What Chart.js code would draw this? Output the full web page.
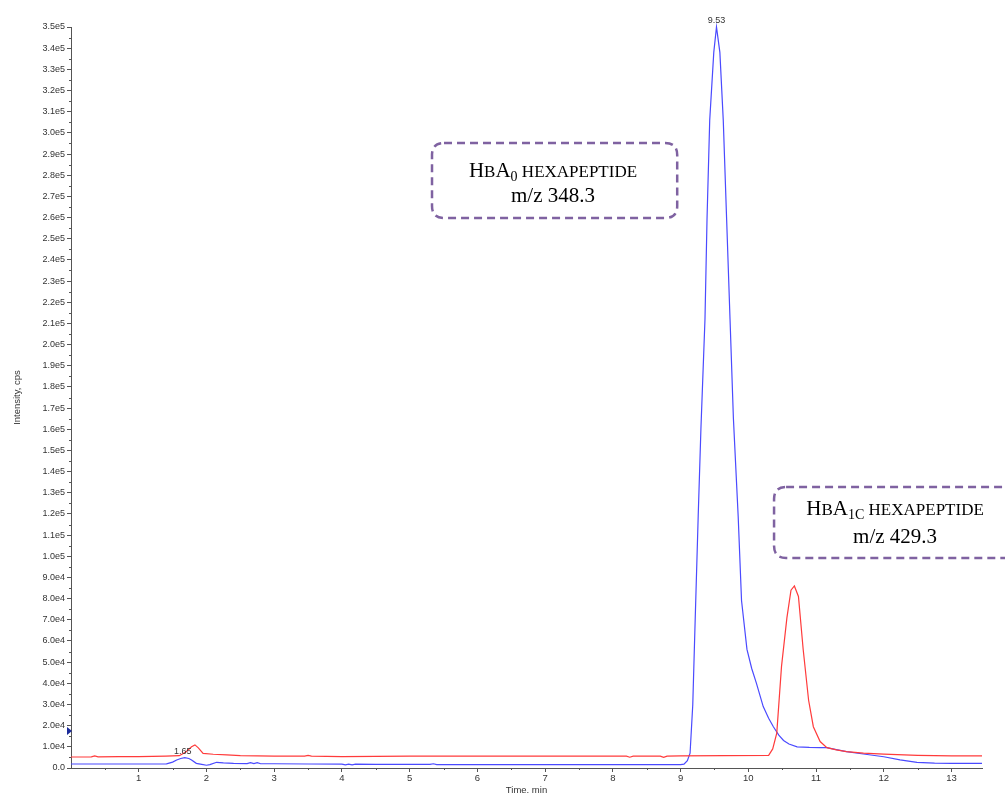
<!DOCTYPE html>
<html>
<head>
<meta charset="utf-8">
<script src="https://cdn.jsdelivr.net/npm/chart.js@4.4.1/dist/chart.umd.min.js"></script>
<style>
  html, body { margin: 0; padding: 0; background: #fff; }
  #wrap { position: relative; width: 1005px; height: 793px; }
</style>
</head>
<body>
<div id="wrap"><canvas id="c" width="1005" height="793"></canvas></div>
<script>
// ---- data ----
const timeBlue = [0.0, 0.5, 1.0, 1.3, 1.41, 1.5, 1.56, 1.62, 1.68, 1.74, 1.78, 1.85, 1.93, 2.0, 2.05, 2.15, 2.25, 2.4, 2.6, 2.65, 2.7, 2.75, 2.8, 3.0, 3.5, 4.0, 4.05, 4.1, 4.15, 4.2, 4.5, 5.0, 5.3, 5.35, 5.4, 6.0, 7.0, 8.0, 9.0, 9.05, 9.1, 9.14, 9.18, 9.21, 9.26, 9.3, 9.36, 9.39, 9.43, 9.49, 9.53, 9.58, 9.63, 9.68, 9.73, 9.78, 9.85, 9.9, 9.98, 10.05, 10.12, 10.22, 10.3, 10.37, 10.45, 10.52, 10.6, 10.72, 10.9, 11.06, 11.16, 11.3, 11.45, 11.7, 12.0, 12.24, 12.49, 12.75, 13.0, 13.45];
const intensityBlue = [1900, 1900, 1900, 1900, 1950, 2800, 3800, 4500, 4900, 4500, 3800, 2200, 1700, 1300, 1600, 2700, 2400, 2200, 2100, 2500, 2100, 2500, 2000, 2000, 1900, 1800, 1500, 1800, 1500, 1800, 1700, 1700, 1700, 2000, 1600, 1600, 1600, 1600, 1600, 1800, 3500, 7000, 30000, 64000, 119000, 160000, 212000, 259000, 306000, 338000, 350000, 338000, 306000, 259000, 212000, 165000, 119000, 79000, 56000, 47000, 40000, 29000, 23500, 19500, 15500, 13000, 11300, 10000, 9700, 9600, 9600, 8700, 7700, 6600, 5300, 3800, 2700, 2300, 2200, 2200];

const timeRed = [0.0, 0.3, 0.35, 0.4, 0.7, 1.0, 1.4, 1.6, 1.7, 1.78, 1.83, 1.88, 1.95, 2.1, 2.3, 2.5, 3.0, 3.45, 3.5, 3.55, 4.0, 5.0, 6.0, 7.0, 8.2, 8.25, 8.3, 8.7, 8.75, 8.8, 9.0, 10.3, 10.36, 10.42, 10.49, 10.57, 10.63, 10.68, 10.74, 10.81, 10.89, 10.96, 11.06, 11.16, 11.3, 11.45, 11.7, 12.0, 12.5, 13.0, 13.45];
const intensityRed = [5200, 5300, 5700, 5300, 5400, 5400, 5600, 5800, 7700, 10000, 10900, 9500, 6900, 6500, 6200, 5800, 5600, 5600, 6000, 5600, 5400, 5600, 5600, 5600, 5600, 5100, 5600, 5600, 5000, 5600, 5700, 6000, 9000, 16500, 48000, 71000, 84000, 86000, 81000, 56000, 32000, 19500, 12500, 9600, 8600, 7700, 7000, 6600, 6000, 5700, 5700];

const yTickValues = [];
for (let v = 0; v <= 350000; v += 10000) yTickValues.push(v);
const xTickValues = [1, 2, 3, 4, 5, 6, 7, 8, 9, 10, 11, 12, 13];
const peakLabels = [{ t: 1.65, v: 4900, text: '1.65' }, { t: 9.53, v: 350000, text: '9.53' }];

// ---- helpers ----
function fmtSci(v) {
  if (v === 0) return '0.0';
  const e = Math.floor(Math.log10(v) + 1e-9);
  const m = v / Math.pow(10, e);
  return m.toFixed(1) + 'e' + e;
}
function toXY(ts, vs) { return ts.map((t, i) => ({ x: t, y: vs[i] })); }

const annotations = [
  { x0: 5.33, x1: 8.95, yTop: 295200, yBot: 259800, l1off: 34, l2off: 59,
    line1: [{ t: 'H', s: 21 }, { t: 'B', s: 17 }, { t: 'A', s: 21 }, { t: '0', s: 14, dy: 4 }, { t: ' HEXAPEPTIDE', s: 17 }],
    line2: 'm/z 348.3' },
  { x0: 10.38, x1: 13.95, yTop: 132700, yBot: 99200, l1off: 28, l2off: 56,
    line1: [{ t: 'H', s: 21 }, { t: 'B', s: 17 }, { t: 'A', s: 21 }, { t: '1C', s: 14, dy: 4 }, { t: ' HEXAPEPTIDE', s: 17 }],
    line2: 'm/z 429.3' }
];

function roundRectPath(ctx, x, y, w, h, r) {
  ctx.beginPath();
  ctx.moveTo(x + r, y);
  ctx.lineTo(x + w - r, y);
  ctx.quadraticCurveTo(x + w, y, x + w, y + r);
  ctx.lineTo(x + w, y + h - r);
  ctx.quadraticCurveTo(x + w, y + h, x + w - r, y + h);
  ctx.lineTo(x + r, y + h);
  ctx.quadraticCurveTo(x, y + h, x, y + h - r);
  ctx.lineTo(x, y + r);
  ctx.quadraticCurveTo(x, y, x + r, y);
  ctx.closePath();
}

const extrasPlugin = {
  id: 'extras',
  afterDraw(chart) {
    const ctx = chart.ctx;
    const xs = chart.scales.x, ys = chart.scales.y;
    ctx.save();
    // minor ticks
    ctx.strokeStyle = '#555';
    ctx.lineWidth = 1;
    ctx.beginPath();
    for (let v = 5000; v < 350000; v += 10000) {
      const py = Math.round(ys.getPixelForValue(v)) + 0.5;
      ctx.moveTo(xs.left - 2, py); ctx.lineTo(xs.left, py);
    }
    for (let t = 0.5; t < 13.45; t += 1) {
      const px = Math.round(xs.getPixelForValue(t)) + 0.5;
      ctx.moveTo(px, ys.bottom); ctx.lineTo(px, ys.bottom + 2);
    }
    ctx.stroke();
    // blue marker on y axis
    const my = ys.getPixelForValue(17500);
    ctx.fillStyle = '#1a2a9a';
    ctx.beginPath();
    ctx.moveTo(xs.left - 4, my - 4); ctx.lineTo(xs.left + 1, my); ctx.lineTo(xs.left - 4, my + 4); ctx.closePath();
    ctx.fill();
    // peak labels
    ctx.fillStyle = '#333';
    ctx.font = '9px "Liberation Sans", Arial, sans-serif';
    ctx.textAlign = 'center';
    ctx.textBaseline = 'bottom';
    peakLabels.forEach(p => {
      ctx.fillText(p.text, xs.getPixelForValue(p.t), ys.getPixelForValue(p.v) - 2);
    });
    // annotation boxes
    annotations.forEach(a => {
      const x0 = xs.getPixelForValue(a.x0), x1 = xs.getPixelForValue(a.x1);
      const y0 = ys.getPixelForValue(a.yTop), y1 = ys.getPixelForValue(a.yBot);
      ctx.strokeStyle = '#7f62a1';
      ctx.lineWidth = 2.5;
      ctx.setLineDash([8, 5]);
      roundRectPath(ctx, x0, y0, x1 - x0, y1 - y0, 12);
      ctx.stroke();
      ctx.setLineDash([]);
      ctx.fillStyle = '#000';
      ctx.textAlign = 'left';
      ctx.textBaseline = 'alphabetic';
      const cx = x0 + 121;
      let total = 0;
      a.line1.forEach(s => { ctx.font = s.s + 'px "Liberation Serif", "Times New Roman", serif'; s.w = ctx.measureText(s.t).width; total += s.w; });
      let x = cx - total / 2;
      a.line1.forEach(s => { ctx.font = s.s + 'px "Liberation Serif", "Times New Roman", serif'; ctx.fillText(s.t, x, y0 + a.l1off + (s.dy || 0)); x += s.w; });
      ctx.font = '21px "Liberation Serif", "Times New Roman", serif';
      ctx.textAlign = 'center';
      ctx.fillText(a.line2, cx, y0 + a.l2off);
    });
    ctx.restore();
  }
};

new Chart(document.getElementById('c'), {
  type: 'scatter',
  data: {
    datasets: [
      { label: 'm/z 429.3', data: toXY(timeRed, intensityRed), showLine: true, borderColor: '#ff3b3b', borderWidth: 1.2, pointRadius: 0, tension: 0, clip: false },
      { label: 'm/z 348.3', data: toXY(timeBlue, intensityBlue), showLine: true, borderColor: '#4a4aff', borderWidth: 1.2, pointRadius: 0, tension: 0, clip: false }
    ]
  },
  options: {
    responsive: false,
    animation: false,
    devicePixelRatio: 1,
    layout: { padding: { left: 0, right: 23, top: 27, bottom: 0 } },
    plugins: { legend: { display: false }, tooltip: { enabled: false } },
    scales: {
      x: {
        type: 'linear', min: 0, max: 13.45,
        afterBuildTicks: s => { s.ticks = xTickValues.map(v => ({ value: v })); },
        afterFit: s => { s.height = 25; },
        grid: { drawOnChartArea: false, drawTicks: true, tickLength: 4, color: '#555' },
        border: { display: true, color: '#555', width: 1 },
        ticks: { padding: 1, color: '#333', font: { family: '"Liberation Sans", Arial, sans-serif', size: 9.5 }, maxRotation: 0, autoSkip: false },
        title: { display: true, text: 'Time, min', color: '#333', font: { family: '"Liberation Sans", Arial, sans-serif', size: 9.5 }, padding: { top: 0, bottom: -3 } }
      },
      y: {
        type: 'linear', min: 0, max: 350000,
        afterBuildTicks: s => { s.ticks = yTickValues.map(v => ({ value: v })); },
        afterFit: s => { s.width = 71; },
        grid: { drawOnChartArea: false, drawTicks: true, tickLength: 4, color: '#555' },
        border: { display: true, color: '#555', width: 1 },
        ticks: { padding: 2, color: '#333', font: { family: '"Liberation Sans", Arial, sans-serif', size: 9 }, autoSkip: false, callback: v => fmtSci(v) },
        title: { display: true, text: 'Intensity, cps', color: '#333', font: { family: '"Liberation Sans", Arial, sans-serif', size: 9.5 }, padding: { top: 11.5, bottom: 0 } }
      }
    }
  },
  plugins: [extrasPlugin]
});
</script>
</body>
</html>
